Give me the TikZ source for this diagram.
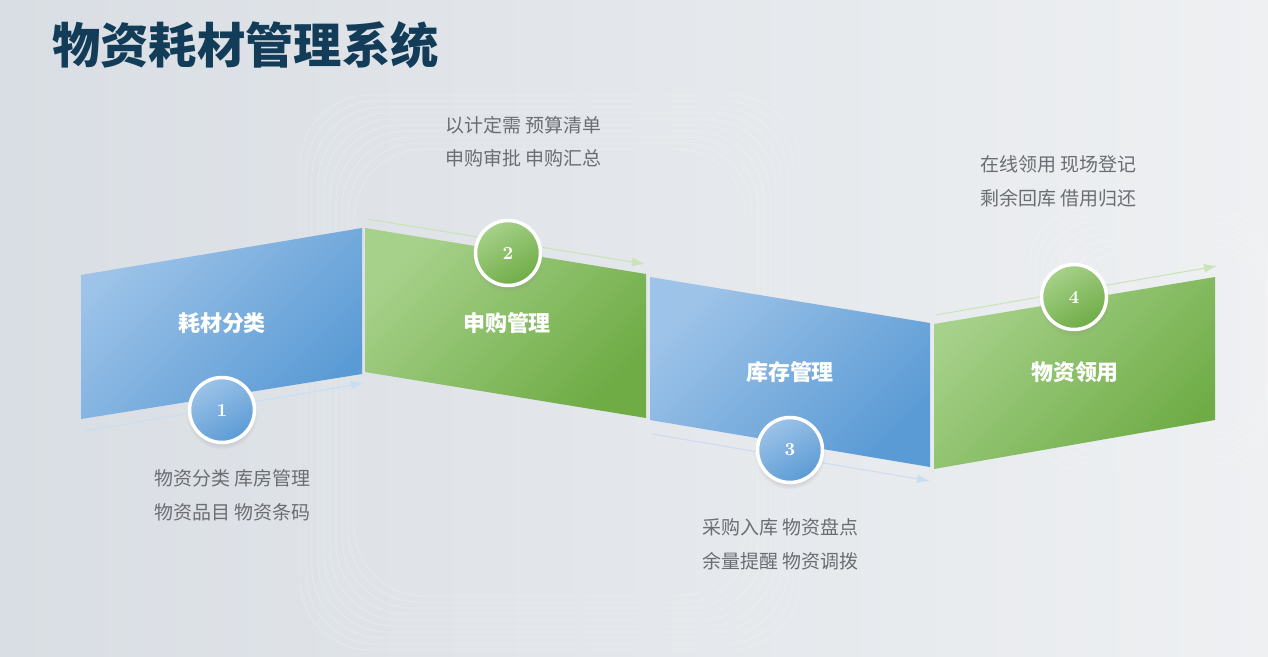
\documentclass[tikz,border=0pt]{standalone}
\usepackage{fontspec}
\newfontfamily\cjk{Noto Sans CJK SC}
\usetikzlibrary{arrows.meta,shadows}

\definecolor{bluedark}{HTML}{5B9BD5}
\definecolor{bluelight}{HTML}{9DC3E8}
\definecolor{greendark}{HTML}{6FAC46}
\definecolor{greenlight}{HTML}{A6D18A}
\definecolor{titleblue}{HTML}{123C58}
\definecolor{notegray}{HTML}{6A6D72}
\definecolor{bgleft}{HTML}{D9DEE4}
\definecolor{bgright}{HTML}{EEF0F2}

\begin{document}
\begin{tikzpicture}[
    x=0.02cm, y=-0.02cm,
    >=Latex,
    font=\cjk,
    bluepanel/.style={top color=bluelight, bottom color=bluedark, shading angle=45},
    greenpanel/.style={top color=greenlight, bottom color=greendark, shading angle=45},
    paneltext/.style={text=white, font=\cjk\bfseries\fontsize{12.5}{14}\selectfont},
    numball/.style={
        circle,
        minimum size=1.3cm,
        draw=white,
        line width=2pt,
        text=white,
        font=\normalfont\bfseries\fontsize{10.5}{12}\selectfont,
        circular drop shadow={shadow xshift=0pt, shadow yshift=-2pt, opacity=0.2}
    },
    blueball/.style={numball, top color=bluelight, middle color=bluedark, bottom color=bluedark, shading angle=30},
    greenball/.style={numball, top color=greenlight, middle color=greendark, bottom color=greendark, shading angle=30},
    note/.style={anchor=west, inner sep=0pt, text=notegray, font=\cjk\fontsize{10.8}{12}\selectfont},
    flowblue/.style={draw=bluelight!55, line width=0.6pt, -{Latex[length=2.6mm,width=1.8mm]}},
    flowgreen/.style={draw=greenlight!60, line width=0.6pt, -{Latex[length=2.6mm,width=1.8mm]}}
]

% --------------------------------------------------
% Background
% --------------------------------------------------

\useasboundingbox (0,0) rectangle (1268,656);
\shade[left color=bgleft, right color=bgright] (0,0) rectangle (1268,656);

\foreach \k in {0,...,9}
{
    \draw[white, opacity=0.25, line width=0.4pt, rounded corners=40]
        (300+6*\k,95+6*\k) rectangle (800-6*\k,650-6*\k);
}
\foreach \k in {0,...,7}
{
    \draw[white, opacity=0.25, line width=0.4pt, rounded corners=30]
        (1030+6*\k,210+6*\k) rectangle (1268,470-6*\k);
}

% --------------------------------------------------
% Title
% --------------------------------------------------

\node[anchor=west, inner sep=0pt, text=titleblue,
      font=\cjk\bfseries\fontsize{27.5}{30}\selectfont] (title) at (52,45)
    {物资耗材管理系统};

% --------------------------------------------------
% Flow arrows
% --------------------------------------------------

\coordinate (a1s) at (85,431);
\coordinate (a1e) at (364,383);
\coordinate (a2s) at (367,219);
\coordinate (a2e) at (645,264);
\coordinate (a3s) at (652,434);
\coordinate (a3e) at (930,481);
\coordinate (a4s) at (936,315);
\coordinate (a4e) at (1217,266);

\draw[flowblue] (a1s) -- (a1e);
\draw[flowgreen] (a2s) -- (a2e);
\draw[flowblue] (a3s) -- (a3e);
\draw[flowgreen] (a4s) -- (a4e);

% --------------------------------------------------
% Panels
% --------------------------------------------------

\shade[bluepanel] (81,275) -- (362,228) -- (362,374) -- (81,419) -- cycle;
\shade[greenpanel] (365,228) -- (646,274) -- (646,418) -- (365,372) -- cycle;
\shade[bluepanel] (650,277) -- (930,323) -- (930,467) -- (650,420) -- cycle;
\shade[greenpanel] (934,324) -- (1215,277) -- (1215,420) -- (934,469) -- cycle;

\node[paneltext] (p1) at (222,323) {耗材分类};
\node[paneltext] (p2) at (507,323) {申购管理};
\node[paneltext] (p3) at (790,372) {库存管理};
\node[paneltext] (p4) at (1075,372) {物资领用};

% --------------------------------------------------
% Step numbers
% --------------------------------------------------

\node[blueball] (n1) at (222,410) {1};
\node[greenball] (n2) at (508,253) {2};
\node[blueball] (n3) at (790,450) {3};
\node[greenball] (n4) at (1074,297) {4};

% --------------------------------------------------
% Notes
% --------------------------------------------------

\node[note] (t1a) at (154,478) {物资分类 库房管理};
\node[note] (t1b) at (154,512) {物资品目 物资条码};

\node[note] (t2a) at (445,125) {以计定需 预算清单};
\node[note] (t2b) at (445,158) {申购审批 申购汇总};

\node[note] (t3a) at (702,527) {采购入库 物资盘点};
\node[note] (t3b) at (702,561) {余量提醒 物资调拨};

\node[note] (t4a) at (980,164) {在线领用 现场登记};
\node[note] (t4b) at (980,198) {剩余回库 借用归还};

\end{tikzpicture}
\end{document}
